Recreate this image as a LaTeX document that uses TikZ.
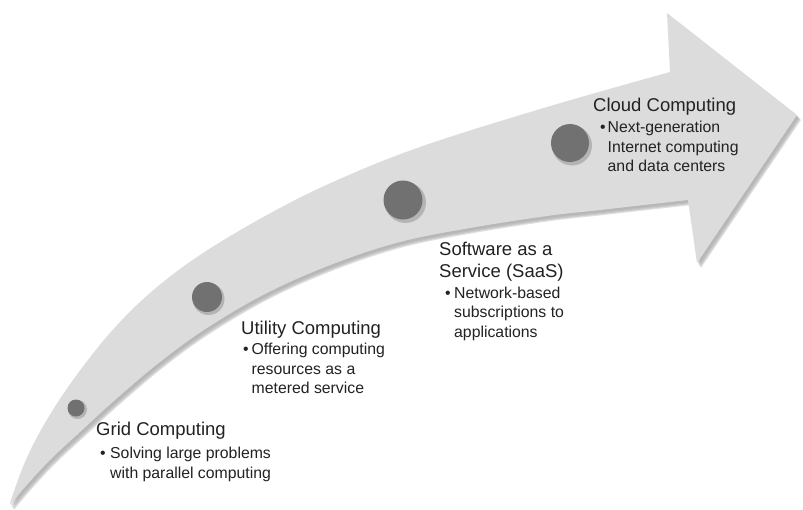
\documentclass[tikz,border=0pt]{standalone}
\usepackage{fontspec}
\setmainfont{Liberation Sans}
\definecolor{bandgray}{HTML}{DCDCDC}
\definecolor{shadegray}{HTML}{A9A9A9}
\definecolor{dotgray}{HTML}{717171}
\definecolor{txt}{HTML}{222222}
\begin{document}
\begin{tikzpicture}[x=1pt,y=-1pt,
  headtxt/.style={anchor=base west, inner sep=0pt, font=\fontsize{18.5}{22}\selectfont, text=txt},
  bodytxt/.style={anchor=base west, inner sep=0pt, font=\fontsize{15.8}{20}\selectfont, text=txt},
  dotnode/.style={circle, fill=dotgray, inner sep=0pt},
  dotshadow/.style={circle, fill=black, opacity=0.18, inner sep=0pt}]
\useasboundingbox (0,0) rectangle (803,509);
\fill[white] (0,0) rectangle (803,509);
% arrow outline
\def\arrowpath{
  plot[smooth, tension=0.6] coordinates {(10,503) (25,462) (45,423) (73,380) (110,333) (150,293) (200,255) (267,215) (333,182) (420,147) (547,107) (670,72)}
  -- (667,13) -- (797,115) -- (697,263) -- (688,200)
  -- plot[smooth, tension=0.6] coordinates {(688,200) (600,210) (547,216) (470,228) (400,242) (333,264) (267,293) (207,328) (160,362) (115,400) (80,432) (50,460) (25,487) (10,505)}
  -- cycle}
% soft shadow
\foreach \s in {5,4,3,2} {
  \fill[shadegray, opacity=0.35, shift={(\s*0.8,\s)}] \arrowpath;
}
\fill[bandgray] \arrowpath;
% dots
\node[dotshadow, minimum size=19pt] (s1) at (77.5,409.5) {};
\node[dotnode, minimum size=17pt] (d1) at (76,408) {};
\node[dotshadow, minimum size=32pt] (s2) at (208.5,299) {};
\node[dotnode, minimum size=30pt] (d2) at (207,297) {};
\node[dotshadow, minimum size=41pt] (s3) at (405.5,202.5) {};
\node[dotnode, minimum size=39pt] (d3) at (403,200) {};
\node[dotshadow, minimum size=40pt] (s4) at (572,145.5) {};
\node[dotnode, minimum size=38pt] (d4) at (570,143) {};
% Grid Computing
\node[headtxt] (gh) at (96,435) {Grid Computing};
\node[bodytxt] (gb1) at (100,458) {\makebox[10pt][l]{\textbullet}Solving large problems};
\node[bodytxt] (gb2) at (110,478) {with parallel computing};
% Utility Computing
\node[headtxt] (uh) at (241,334) {Utility Computing};
\node[bodytxt] (ub1) at (243,354) {\makebox[8.5pt][l]{\textbullet}Offering computing};
\node[bodytxt] (ub2) at (251.5,374) {resources as a};
\node[bodytxt] (ub3) at (251.5,393) {metered service};
% SaaS
\node[headtxt] (sh1) at (439,255) {Software as a};
\node[headtxt] (sh2) at (439,277) {Service (SaaS)};
\node[bodytxt] (sb1) at (445,298) {\makebox[9pt][l]{\textbullet}Network-based};
\node[bodytxt] (sb2) at (454,317) {subscriptions to};
\node[bodytxt] (sb3) at (454,337) {applications};
% Cloud
\node[headtxt] (ch) at (593,111) {Cloud Computing};
\node[bodytxt] (cb1) at (600,132) {\makebox[7.5pt][l]{\textbullet}Next-generation};
\node[bodytxt] (cb2) at (607.5,152) {Internet computing};
\node[bodytxt] (cb3) at (607.5,171) {and data centers};
\end{tikzpicture}
\end{document}
